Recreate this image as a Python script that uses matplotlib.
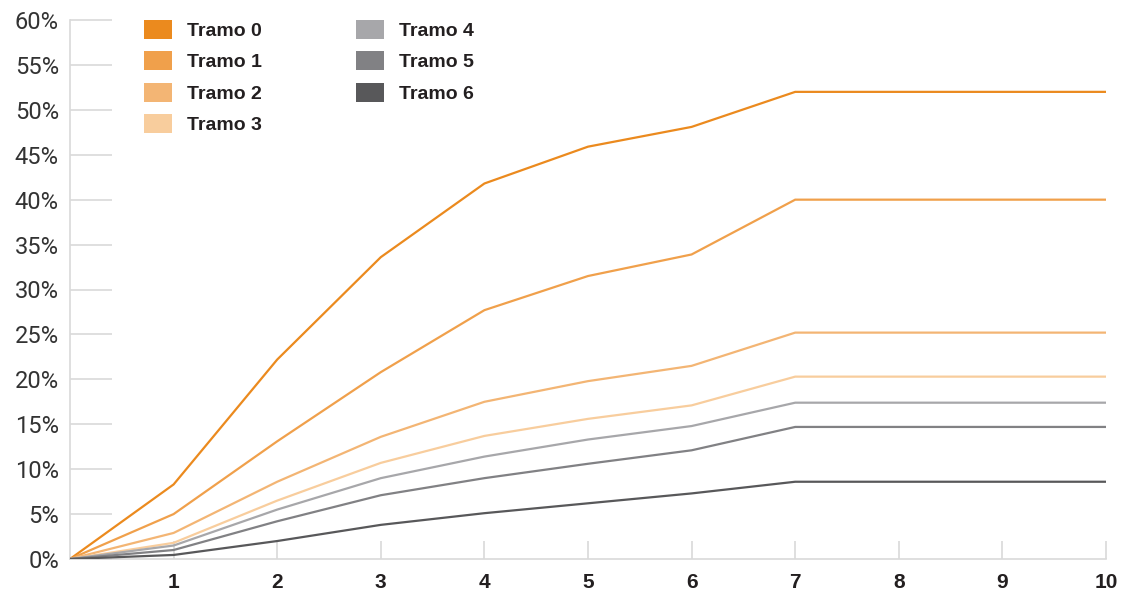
import matplotlib
matplotlib.use("Agg")
import matplotlib.pyplot as plt
from matplotlib.patches import Patch

x = [0, 1, 2, 3, 4, 5, 6, 7, 8, 9, 10]
series = ["Tramo 0", "Tramo 1", "Tramo 2", "Tramo 3", "Tramo 4", "Tramo 5", "Tramo 6"]
tramo0 = [0, 8.3, 22.2, 33.6, 41.8, 45.9, 48.1, 52.0, 52.0, 52.0, 52.0]
tramo1 = [0, 5.0, 13.1, 20.8, 27.7, 31.5, 33.9, 40.0, 40.0, 40.0, 40.0]
tramo2 = [0, 2.9, 8.6, 13.6, 17.5, 19.8, 21.5, 25.2, 25.2, 25.2, 25.2]
tramo3 = [0, 1.8, 6.5, 10.7, 13.7, 15.6, 17.1, 20.3, 20.3, 20.3, 20.3]
tramo4 = [0, 1.5, 5.5, 9.0, 11.4, 13.3, 14.8, 17.4, 17.4, 17.4, 17.4]
tramo5 = [0, 1.0, 4.2, 7.1, 9.0, 10.6, 12.1, 14.7, 14.7, 14.7, 14.7]
tramo6 = [0, 0.45, 2.0, 3.8, 5.1, 6.2, 7.3, 8.6, 8.6, 8.6, 8.6]
valores = [tramo0, tramo1, tramo2, tramo3, tramo4, tramo5, tramo6]
colores = ["#EB8A1E", "#F0A04B", "#F3B574", "#F8CD9D", "#A7A7AA", "#818184", "#58585A"]
yticks = [0, 5, 10, 15, 20, 25, 30, 35, 40, 45, 50, 55, 60]
xticks = [1, 2, 3, 4, 5, 6, 7, 8, 9, 10]

eje = "#D9D9D9"
texto = "#231F20"
fuente_bold = ["Liberation Sans Narrow", "Liberation Sans", "DejaVu Sans"]

fig = plt.figure(figsize=(11.29, 5.93), dpi=100)
ax = fig.add_axes([70 / 1129, 1 - 559 / 593, (1106 - 70) / 1129, (559 - 20) / 593])

for v, c, n in zip(valores, colores, series):
    ax.plot(x, v, color=c, linewidth=1.6, label=n, solid_joinstyle="miter", zorder=3)

ax.set_xlim(0, 10)
ax.set_ylim(0, 60)
for s in ["top", "right"]:
    ax.spines[s].set_visible(False)
for s in ["left", "bottom"]:
    ax.spines[s].set_color(eje)
    ax.spines[s].set_linewidth(1.2)

# marcas cortas del eje y (hacia dentro)
ax.set_yticks(yticks)
ax.set_yticklabels([f"{t}%" for t in yticks], fontsize=17, color="#333333",
                   family=["Roboto", "DejaVu Sans"], fontweight="normal")
ax.tick_params(axis="y", direction="in", length=30, width=1.2, color=eje, pad=8)

ax.set_xticks(xticks)
ax.set_xticklabels([str(t) for t in xticks], fontsize=15, color=texto,
                   family=fuente_bold, fontweight="bold")
ax.tick_params(axis="x", direction="in", length=13, width=1.2, color=eje, pad=10)

# leyenda
handles = [Patch(facecolor=c, edgecolor="none") for c in colores]
leg = fig.legend(handles, series, ncol=2, loc="upper left",
                 bbox_to_anchor=(136 / 1129, 1 - 12 / 593), borderaxespad=0,
                 frameon=False, handlelength=1.44, handleheight=1.13,
                 handletextpad=0.8, columnspacing=4.8, labelspacing=0.58,
                 prop={"family": fuente_bold, "weight": "bold", "size": 14})
for t in leg.get_texts():
    t.set_color(texto)

fig.savefig("out.png", dpi=100)
